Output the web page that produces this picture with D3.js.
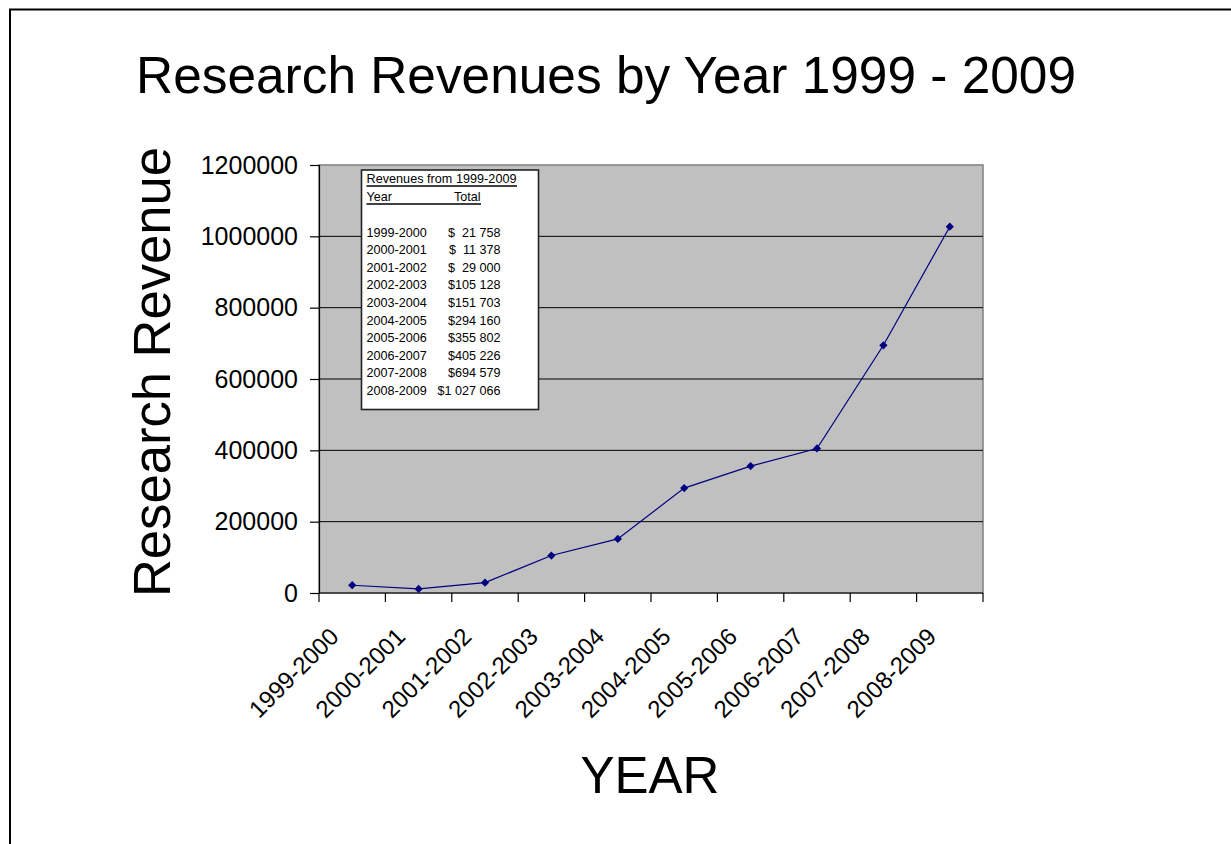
<!DOCTYPE html>
<html>
<head>
<meta charset="utf-8">
<script src="https://cdn.jsdelivr.net/npm/d3@7"></script>
<style>
  body { margin: 0; background: #fff; }
  svg text { font-family: "Liberation Sans", Arial, sans-serif; }
</style>
</head>
<body>
<div id="chart"></div>
<script>
// data
var years = ["1999-2000", "2000-2001", "2001-2002", "2002-2003", "2003-2004",
             "2004-2005", "2005-2006", "2006-2007", "2007-2008", "2008-2009"];
var revenue = [21758, 11378, 29000, 105128, 151703, 294160, 355802, 405226, 694579, 1027066];
var tableTotals = ["$  21 758", "$  11 378", "$  29 000", "$105 128", "$151 703",
                   "$294 160", "$355 802", "$405 226", "$694 579", "$1 027 066"];
var yTicks = [0, 200000, 400000, 600000, 800000, 1000000, 1200000];

var W = 1231, H = 844;
var plot = {left: 319, top: 165, right: 983, bottom: 593};

var svg = d3.select("#chart").append("svg")
  .attr("width", W).attr("height", H);

// slide frame
svg.append("path")
  .attr("d", "M10,844 L10,9.5 L1231,9.5")
  .attr("fill", "none").attr("stroke", "#000").attr("stroke-width", 2);

svg.append("text")
  .attr("x", 606).attr("y", 93)
  .attr("text-anchor", "middle")
  .attr("font-size", 51.4)
  .text("Research Revenues by Year 1999 - 2009");

var x = d3.scaleBand().domain(years).range([plot.left, plot.right]);
var y = d3.scaleLinear().domain([0, 1200000]).range([plot.bottom, plot.top]);

// plot area
svg.append("rect")
  .attr("x", plot.left).attr("y", plot.top)
  .attr("width", plot.right - plot.left).attr("height", plot.bottom - plot.top)
  .attr("fill", "#c0c0c0").attr("stroke", "#808080").attr("stroke-width", 1.5);

// gridlines
svg.append("g").selectAll("line")
  .data(yTicks.filter(function(d) { return d > 0 && d < 1200000; }))
  .join("line")
  .attr("x1", plot.left).attr("x2", plot.right)
  .attr("y1", function(d) { return y(d); }).attr("y2", function(d) { return y(d); })
  .attr("stroke", "#000").attr("stroke-width", 1);

// y axis
var yAxis = svg.append("g")
  .attr("transform", "translate(" + plot.left + ",0)")
  .call(d3.axisLeft(y).tickValues(yTicks).tickSize(9).tickPadding(12).tickFormat(d3.format("d")));
yAxis.selectAll("text").attr("font-size", 25).attr("fill", "#000").style("font-family", "Liberation Sans, Arial, sans-serif");
yAxis.selectAll("line, path").attr("stroke", "#000").attr("stroke-width", 1.2);

// x axis: ticks on band edges
var edges = years.map(function(d) { return x(d); }).concat([plot.right]);
var xg = svg.append("g");
xg.append("line")
  .attr("x1", plot.left).attr("x2", plot.right)
  .attr("y1", plot.bottom).attr("y2", plot.bottom)
  .attr("stroke", "#000").attr("stroke-width", 1.2);
xg.selectAll(".tk").data(edges).join("line")
  .attr("class", "tk")
  .attr("x1", function(d) { return d; }).attr("x2", function(d) { return d; })
  .attr("y1", plot.bottom).attr("y2", plot.bottom + 9)
  .attr("stroke", "#000").attr("stroke-width", 1.2);
xg.selectAll("text").data(years).join("text")
  .attr("text-anchor", "end")
  .attr("font-size", 24)
  .attr("transform", function(d) {
    return "translate(" + (x(d) + x.bandwidth() / 2 - 12) + "," + (plot.bottom + 45) + ") rotate(-45)";
  })
  .text(function(d) { return d; });

// line + markers
var pts = years.map(function(d, i) { return [x(d) + x.bandwidth() / 2, y(revenue[i])]; });
svg.append("path")
  .attr("d", d3.line()(pts))
  .attr("fill", "none").attr("stroke", "#000080").attr("stroke-width", 1.2);
svg.append("g").selectAll("path").data(pts).join("path")
  .attr("d", d3.symbol().type(d3.symbolSquare).size(34))
  .attr("transform", function(d) { return "translate(" + d[0] + "," + d[1] + ") rotate(45)"; })
  .attr("fill", "#000080");

// axis titles
svg.append("text")
  .attr("transform", "translate(170,372) rotate(-90)")
  .attr("text-anchor", "middle")
  .attr("font-size", 52.6)
  .text("Research Revenue");
svg.append("text")
  .attr("x", 650).attr("y", 793)
  .attr("text-anchor", "middle")
  .attr("font-size", 51)
  .text("YEAR");

// data table box
var tb = svg.append("g");
tb.append("rect")
  .attr("x", 361.5).attr("y", 170).attr("width", 177).attr("height", 239.5)
  .attr("fill", "#fff").attr("stroke", "#222").attr("stroke-width", 1.6);
tb.append("text").attr("x", 366.5).attr("y", 183).attr("font-size", 12.6)
  .attr("textLength", 150).text("Revenues from 1999-2009");
tb.append("line").attr("x1", 366.5).attr("x2", 517).attr("y1", 186).attr("y2", 186)
  .attr("stroke", "#000").attr("stroke-width", 1.6);
tb.append("text").attr("x", 366.5).attr("y", 200.5).attr("font-size", 12.6).text("Year");
tb.append("text").attr("x", 454).attr("y", 200.5).attr("font-size", 12.6).text("Total");
tb.append("line").attr("x1", 366.5).attr("x2", 481).attr("y1", 204).attr("y2", 204)
  .attr("stroke", "#000").attr("stroke-width", 1.6);
tb.selectAll(".yr").data(years).join("text")
  .attr("class", "yr")
  .attr("x", 366.5).attr("y", function(d, i) { return 236.5 + i * 17.6; })
  .attr("font-size", 12.6).text(function(d) { return d; });
tb.selectAll(".tot").data(tableTotals).join("text")
  .attr("class", "tot")
  .attr("x", 500.5).attr("y", function(d, i) { return 236.5 + i * 17.6; })
  .attr("text-anchor", "end").attr("xml:space", "preserve")
  .style("white-space", "pre")
  .attr("font-size", 12.6).text(function(d) { return d; });
</script>
</body>
</html>
